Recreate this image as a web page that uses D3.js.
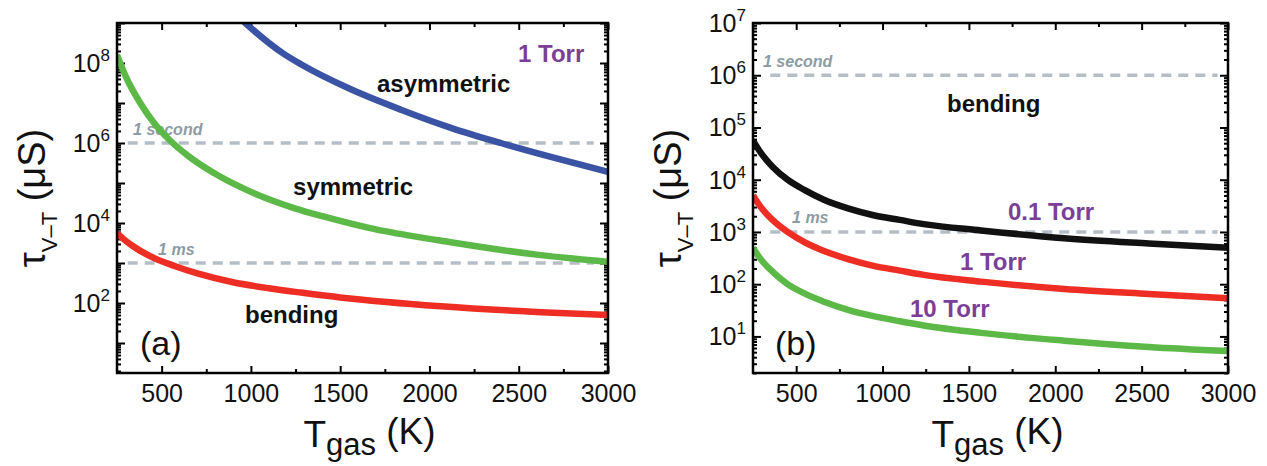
<!DOCTYPE html>
<html>
<head>
<meta charset="utf-8">
<script src="https://cdnjs.cloudflare.com/ajax/libs/d3/7.8.5/d3.min.js"></script>
<style>
  body { margin: 0; background: #fff; }
  svg { display: block; font-family: "Liberation Sans", Arial, sans-serif; }
  .frame { fill: none; stroke: #000; stroke-width: 2.5; }
  .axis path { display: none; }
  .axis line { stroke: #000; stroke-width: 2; }
  .axis text { font-size: 25px; fill: #111; font-family: "Liberation Sans", Arial, sans-serif; }
  .curve { fill: none; stroke-width: 6.5; }
  .ref { stroke: #b5bec6; stroke-width: 3.5; stroke-dasharray: 10 7; }
  .ref-label { fill: #8d9ba6; font-size: 16px; font-weight: bold; font-style: italic; }
  .ylab { font-size: 25px; fill: #111; }
  .mode { font-size: 24px; font-weight: bold; fill: #111; }
  .pressure { font-size: 24px; font-weight: bold; fill: #7b3f98; }
  .panel-tag { font-size: 34px; fill: #111; }
  .title { fill: #111; }
</style>
</head>
<body>
<div id="plot"></div>
<script>
// Panel (a): V-T relaxation time of the three CO2 modes at 1 Torr (microseconds)
var tempAsym = [900, 969, 1180, 1280, 1560, 1840, 2120, 2400, 2680, 3000];
var tauAsym  = [1.95e9, 1e9, 1.74e8, 9.3e7, 2.2e7, 6.8e6, 2.4e6, 1e6, 4.5e5, 1.9e5];

var tempSym = [250, 300, 380, 450, 550, 650, 800, 1000, 1250, 1400, 1700, 2050, 2600, 3000];
var tauSym  = [1.6e8, 4.5e7, 1e7, 3.5e6, 1.12e6, 4.7e5, 1.7e5, 6e4, 2.3e4, 1.48e4, 6.9e3, 3.7e3, 1.62e3, 1.07e3];

var tempBendA = [250, 300, 340, 435, 576, 700, 900, 1100, 1280, 1500, 2065, 2626, 3000];
var tauBendA  = [5600, 3550, 2630, 1480, 830, 550, 331, 234, 182, 138, 83, 59, 50];

// Panel (b): bending mode at three pressures
var tempB   = [250, 290, 366, 450, 550, 657, 800, 948, 1100, 1238, 1570, 2052, 2541, 3000];
var tau01   = [56200, 34700, 17400, 10000, 6310, 4170, 2820, 2090, 1700, 1410, 1070, 759, 603, 501];
var tau1    = [5010, 3160, 1660, 1000, 631, 437, 302, 224, 182, 151, 112, 81, 65, 54];
var tau10   = [501, 316, 170, 100, 66, 46.8, 32.4, 24.5, 19.5, 16.2, 11.7, 8.3, 6.3, 5.25];

// Reference times (1 second, 1 ms)
var refTau = [1e6, 1e3];
var refNames = ['1 second', '1 ms'];

var xMajor = [500, 1000, 1500, 2000, 2500, 3000];
var xMinor = [750, 1250, 1750, 2250, 2750];

function zip(ts, vs) {
    return ts.map(function(t, i) { return { t: t, v: vs[i] }; });
}

var width = 1267,
    height = 466;

var svg = d3.select('#plot')
    .append('svg')
    .attr('width', width)
    .attr('height', height);

var panels = [
    {
        id: 'a',
        left: 117, right: 608, top: 23, bottom: 373,
        yDomain: [Math.pow(10, 0.25), 1e9],
        yLabelPowers: [2, 4, 6, 8],
        refRange: [[310, 2920], [310, 2920]],
        refLabelPos: [[340, 6.2], [480, 3.2]],
        series: [
            { data: zip(tempAsym, tauAsym), color: '#3a53a4' },
            { data: zip(tempSym, tauSym), color: '#5cb947' },
            { data: zip(tempBendA, tauBendA), color: '#ee2e24' }
        ],
        labels: [
            { text: '1 Torr', cls: 'pressure', t: 2496, lg: 8.03 },
            { text: 'asymmetric', cls: 'mode', t: 1706, lg: 7.28 },
            { text: 'symmetric', cls: 'mode', t: 1236, lg: 4.7 },
            { text: 'bending', cls: 'mode', t: 967, lg: 1.5 },
            { text: '(a)', cls: 'panel-tag', t: 379, lg: 0.7 }
        ]
    },
    {
        id: 'b',
        left: 753, right: 1228, top: 23, bottom: 373,
        yDomain: [Math.pow(10, 0.3), 1e7],
        yLabelPowers: [1, 2, 3, 4, 5, 6, 7],
        refRange: [[350, 2940], [350, 2940]],
        refLabelPos: [[308, 6.16], [476, 3.17]],
        series: [
            { data: zip(tempB, tau01), color: '#111111' },
            { data: zip(tempB, tau1), color: '#ee2e24' },
            { data: zip(tempB, tau10), color: '#5cb947' }
        ],
        labels: [
            { text: 'bending', cls: 'mode', t: 1373, lg: 5.3 },
            { text: '0.1 Torr', cls: 'pressure', t: 1726, lg: 3.23 },
            { text: '1 Torr', cls: 'pressure', t: 1448, lg: 2.27 },
            { text: '10 Torr', cls: 'pressure', t: 1159, lg: 1.37 },
            { text: '(b)', cls: 'panel-tag', t: 377, lg: 0.64 }
        ]
    }
];

panels.forEach(drawPanel);

function drawPanel(p) {
    var x = d3.scaleLinear().domain([250, 3000]).range([p.left, p.right]);
    var y = d3.scaleLog().domain(p.yDomain).range([p.bottom, p.top]);

    var g = svg.append('g');

    g.append('clipPath')
        .attr('id', 'clip-' + p.id)
        .append('rect')
        .attr('x', p.left)
        .attr('y', p.top)
        .attr('width', p.right - p.left)
        .attr('height', p.bottom - p.top);

    // log ticks: decades and 2..9 in between
    var lo = Math.floor(Math.log10(p.yDomain[0])),
        hi = Math.ceil(Math.log10(p.yDomain[1]));
    var yMajor = [], yMinor = [];
    for (var k = lo; k <= hi; k++) {
        if (Math.pow(10, k) >= p.yDomain[0] && Math.pow(10, k) <= p.yDomain[1]) yMajor.push(Math.pow(10, k));
        for (var m = 2; m < 10; m++) {
            var v = m * Math.pow(10, k);
            if (v >= p.yDomain[0] && v <= p.yDomain[1]) yMinor.push(v);
        }
    }

    // x axes (bottom with labels, top mirrored)
    g.append('g')
        .classed('axis', true)
        .attr('transform', 'translate(0,' + p.bottom + ')')
        .call(d3.axisBottom(x).tickValues(xMajor).tickSizeInner(-7).tickSizeOuter(0).tickPadding(11).tickFormat(d3.format('d')));
    g.append('g')
        .classed('axis', true)
        .attr('transform', 'translate(0,' + p.bottom + ')')
        .call(d3.axisBottom(x).tickValues(xMinor).tickSizeInner(-4).tickSizeOuter(0).tickFormat(''));
    g.append('g')
        .classed('axis', true)
        .attr('transform', 'translate(0,' + p.top + ')')
        .call(d3.axisTop(x).tickValues(xMajor).tickSizeInner(-7).tickSizeOuter(0).tickFormat(''));
    g.append('g')
        .classed('axis', true)
        .attr('transform', 'translate(0,' + p.top + ')')
        .call(d3.axisTop(x).tickValues(xMinor).tickSizeInner(-4).tickSizeOuter(0).tickFormat(''));

    // y axes, left and right
    [[d3.axisLeft, p.left], [d3.axisRight, p.right]].forEach(function(a) {
        g.append('g')
            .classed('axis', true)
            .attr('transform', 'translate(' + a[1] + ',0)')
            .call(a[0](y).tickValues(yMajor).tickSizeInner(-8).tickSizeOuter(0).tickFormat(''));
        g.append('g')
            .classed('axis', true)
            .attr('transform', 'translate(' + a[1] + ',0)')
            .call(a[0](y).tickValues(yMinor).tickSizeInner(-4).tickSizeOuter(0).tickFormat(''));
    });

    // y tick labels as 10^n
    var yl = g.append('g')
        .selectAll('text')
        .data(p.yLabelPowers)
        .enter()
        .append('text')
        .classed('ylab', true)
        .attr('text-anchor', 'end')
        .attr('x', p.left - 7)
        .attr('y', function(d) { return y(Math.pow(10, d)) + 9; });
    yl.append('tspan').text('10');
    yl.append('tspan')
        .attr('dy', -11)
        .attr('font-size', 17)
        .text(function(d) { return d; });

    // reference lines
    refTau.forEach(function(tau, i) {
        g.append('line')
            .classed('ref', true)
            .attr('x1', x(p.refRange[i][0]))
            .attr('x2', x(p.refRange[i][1]))
            .attr('y1', y(tau))
            .attr('y2', y(tau));
        g.append('text')
            .classed('ref-label', true)
            .attr('x', x(p.refLabelPos[i][0]))
            .attr('y', y(Math.pow(10, p.refLabelPos[i][1])))
            .text(refNames[i]);
    });

    // curves
    var line = d3.line()
        .x(function(d) { return x(d.t); })
        .y(function(d) { return y(d.v); })
        .curve(d3.curveMonotoneX);

    g.append('g')
        .attr('clip-path', 'url(#clip-' + p.id + ')')
        .selectAll('path')
        .data(p.series)
        .enter()
        .append('path')
        .classed('curve', true)
        .attr('stroke', function(d) { return d.color; })
        .attr('d', function(d) { return line(d.data); });

    // frame
    g.append('rect')
        .classed('frame', true)
        .attr('x', p.left)
        .attr('y', p.top)
        .attr('width', p.right - p.left)
        .attr('height', p.bottom - p.top);

    // in-plot labels
    g.selectAll('.lbl')
        .data(p.labels)
        .enter()
        .append('text')
        .attr('class', function(d) { return 'lbl ' + d.cls; })
        .attr('x', function(d) { return x(d.t); })
        .attr('y', function(d) { return y(Math.pow(10, d.lg)); })
        .text(function(d) { return d.text; });

    // x title
    var cx = (p.left + p.right) / 2 + 7;
    var xt = g.append('text')
        .classed('title', true)
        .attr('text-anchor', 'middle')
        .attr('x', cx)
        .attr('y', 447);
    xt.append('tspan').attr('font-size', 37).text('T');
    xt.append('tspan').attr('font-size', 31).attr('dy', 8).text('gas');
    xt.append('tspan').attr('font-size', 37).attr('dy', -11).text(' (K)');

    // y title
    var yt = g.append('text')
        .classed('title', true)
        .attr('text-anchor', 'middle')
        .attr('transform', 'translate(' + (p.left - 72) + ',198) rotate(-90)');
    yt.append('tspan').attr('font-size', 38).text('τ');
    yt.append('tspan').attr('font-size', 22).attr('dy', 12).text('V–T');
    yt.append('tspan').attr('font-size', 38).attr('dy', -12).text(' (μS)');
}
</script>
</body>
</html>
